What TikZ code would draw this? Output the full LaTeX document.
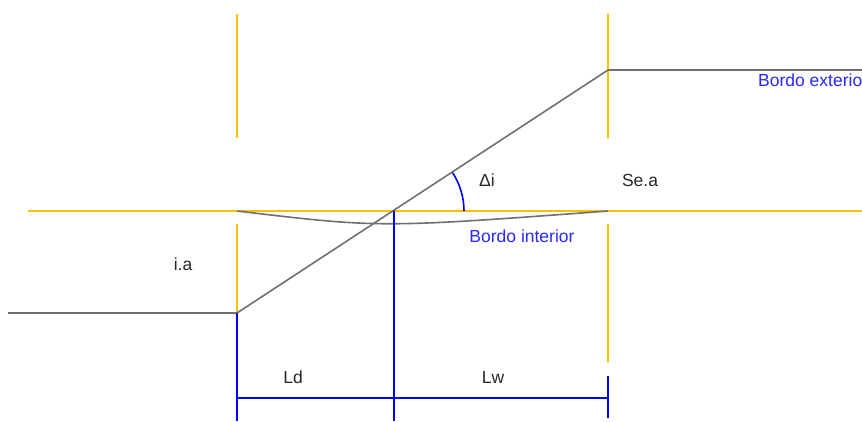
\documentclass[tikz,border=0pt]{standalone}
\usepackage{fontspec}
\setmainfont{Liberation Sans}
\usepackage{tikz}
\definecolor{guide}{RGB}{255,192,0}
\definecolor{road}{RGB}{112,112,112}
\definecolor{dim}{RGB}{0,0,255}
\definecolor{bordo}{RGB}{40,40,255}

\begin{document}
\begin{tikzpicture}
 [x=1pt, y=1pt,
  guide line/.style={line width=1.6pt, draw=guide},
  road line/.style={line width=1.6pt, draw=road},
  dim line/.style={line width=1.6pt, draw=dim},
  label node/.style={font=\fontsize{17.5}{20}\selectfont, text=black!85, inner sep=0pt},
  bordo node/.style={font=\fontsize{17.5}{20}\selectfont, text=bordo, inner sep=0pt}]

\useasboundingbox (0,0) rectangle (862,421);
\clip (0,0) rectangle (862,421);

% guide lines
\coordinate (lt1) at (237,407); \coordinate (lt2) at (237,283);
\coordinate (ll1) at (237,197); \coordinate (ll2) at (237,108);
\coordinate (rt1) at (608,407); \coordinate (rt2) at (608,283);
\coordinate (rl1) at (608,197); \coordinate (rl2) at (608,59);
\coordinate (h1) at (28,210);   \coordinate (h2) at (862,210);

% road edges
\coordinate (w) at (8,108);
\coordinate (a) at (237,108);
\coordinate (b) at (608,351);
\coordinate (e) at (862,351);
\coordinate (ci) at (237,210);
\coordinate (co) at (608,210);

% dimensions
\coordinate (p) at (394,210);
\coordinate (p0) at (394,0);
\coordinate (a0) at (237,0);
\coordinate (d1) at (237,23);
\coordinate (d2) at (394,23);
\coordinate (d3) at (608,23);
\coordinate (k1) at (608,45);
\coordinate (k2) at (608,3);

\draw[guide line] (lt1) -- (lt2);
\draw[guide line] (ll1) -- (ll2);
\draw[guide line] (rt1) -- (rt2);
\draw[guide line] (rl1) -- (rl2);
\draw[guide line] (h1) -- (h2);

\draw[road line] (w) -- (a) -- (b) -- (e);
\draw[road line] (ci) .. controls (380,193) .. (co);

\draw[dim line] (p) -- (p0);
\draw[dim line] (a) -- (a0);
\draw[dim line] (d1) -- (d3);
\draw[dim line] (k1) -- (k2);
\draw[dim line] (464,210) arc[start angle=0, end angle=33.2, radius=70];

\node[label node] (di) at (487,241) {Δi};
\node[label node] (sea) at (640,241) {Se.a};
\node[label node] (ia) at (183,157) {i.a};
\node[label node] (ld) at (293,44) {Ld};
\node[label node] (lw) at (493,44) {Lw};
\node[bordo node] (bi) at (522,185) {Bordo interior};
\node[bordo node, anchor=west] (be) at (758,341) {Bordo exterior};

\end{tikzpicture}
\end{document}
